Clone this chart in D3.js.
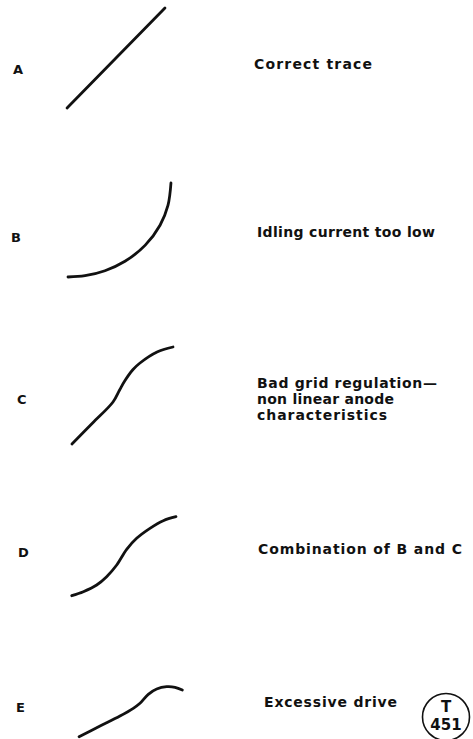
<!DOCTYPE html>
<meta charset="utf-8">
<style>
    body { margin: 0; background: #fff; }
    .trace { fill: none; stroke: #111; stroke-width: 2.8px; stroke-linecap: round; stroke-linejoin: round; }
    text { font-family: "DejaVu Sans", sans-serif; font-weight: bold; fill: #111; }
    .letter { font-size: 13px; }
    .desc { font-size: 14px; }
    .stamp circle { fill: none; stroke: #111; stroke-width: 1.6px; }
    .stamp text { font-size: 15px; text-anchor: middle; }
</style>
<body>
<script src="https://cdnjs.cloudflare.com/ajax/libs/d3/7.8.5/d3.min.js"></script>
<script>
    // panel letters and their captions
    var letters = ["A", "B", "C", "D", "E"];
    var captions = [
        ["Correct trace"],
        ["Idling current too low"],
        ["Bad grid regulation\u2014", "non linear anode", "characteristics"],
        ["Combination of B and C"],
        ["Excessive drive"]
    ];
    // traces as [input, output], both 0..1 of the panel box
    var traceA = [[0.017, 0.0], [0.833, 1.0]];
    var traceB = [[0.025, 0.06], [0.167, 0.073], [0.333, 0.123], [0.5, 0.217],
        [0.667, 0.376], [0.792, 0.578], [0.858, 0.776], [0.883, 1.0]];
    var traceC = [[0.058, 0.03], [0.23, 0.24], [0.40, 0.45], [0.455, 0.57],
        [0.5, 0.665], [0.567, 0.775], [0.625, 0.84], [0.767, 0.95], [0.9, 1.0]];
    var traceD = [[0.056, 0.203], [0.153, 0.243], [0.264, 0.31], [0.347, 0.393], [0.431, 0.51],
        [0.514, 0.667], [0.597, 0.777], [0.708, 0.877], [0.819, 0.953], [0.925, 0.993]];
    var traceE = [[0.117, 0.033], [0.292, 0.14], [0.458, 0.24], [0.569, 0.317], [0.625, 0.367],
        [0.694, 0.457], [0.764, 0.51], [0.847, 0.533], [0.917, 0.527], [0.978, 0.5]];
    var traces = [traceA, traceB, traceC, traceD, traceE];
    var stampText = ["T", "451"];

    // layout
    var W = 473, H = 739;
    var panelTop = [8, 183, 347, 516, 640];
    var panelLeft = 65, panelW = 120, panelH = 100;
    var letterX = [13, 11, 17, 18, 16];
    var letterY = [74, 242, 404, 557, 712];
    var capX = [254, 257, 257, 258, 264];
    var capY = [69, 237, 388, 554, 707];
    var capW = [[118], [178], [180, 137, 130], [204], [133]];

    var svg = d3.select("body").append("svg")
        .attr("width", W)
        .attr("height", H);

    traces.forEach(function(tr, i) {
        var x = d3.scaleLinear().domain([0, 1]).range([panelLeft, panelLeft + panelW]);
        var y = d3.scaleLinear().domain([0, 1]).range([panelTop[i] + panelH, panelTop[i]]);
        var line = d3.line()
            .x(function(d) { return x(d[0]); })
            .y(function(d) { return y(d[1]); })
            .curve(d3.curveCatmullRom.alpha(0.5));
        svg.append("path")
            .attr("class", "trace")
            .attr("d", line(tr));

        svg.append("text")
            .attr("class", "letter")
            .attr("x", letterX[i])
            .attr("y", letterY[i])
            .text(letters[i]);

        captions[i].forEach(function(c, j) {
            svg.append("text")
                .attr("class", "desc")
                .attr("x", capX[i])
                .attr("y", capY[i] + j * 16)
                .attr("textLength", capW[i][j])
                .attr("lengthAdjust", "spacing")
                .text(c);
        });
    });

    // stamp in the corner
    var stamp = svg.append("g").attr("class", "stamp")
        .attr("transform", "translate(446,717)");
    stamp.append("circle").attr("r", 23.5);
    stamp.selectAll("text.s")
        .data(stampText)
        .enter().append("text")
        .attr("class", "s")
        .attr("y", function(d, i) { return i ? 13 : -5; })
        .text(function(d) { return d; });
</script>
</body>
